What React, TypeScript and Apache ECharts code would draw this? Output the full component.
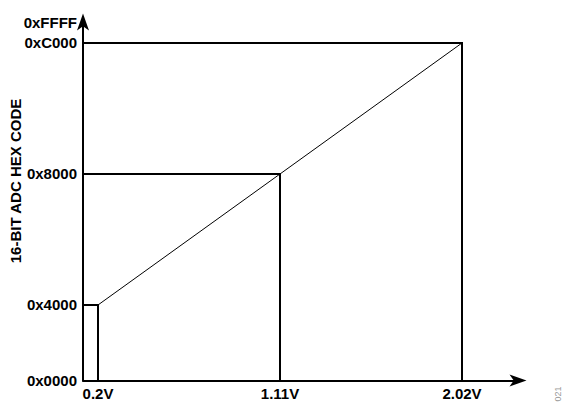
import React, { useEffect, useRef } from "react";
import * as echarts from "echarts";

// Data
const VOLTS = [0.2, 1.11, 2.02];
const X_LABELS = ["0.2V", "1.11V", "2.02V"];
const CODES = [0x4000, 0x8000, 0xc000];
const Y_TICK_LABELS = ["0x0000", "0x4000", "0x8000", "0xC000", "0xFFFF"];
const Y_NAME = "16-BIT ADC HEX CODE";
const FIG_ID = "021";

// Schematic axis ends (the figure labels the axis bottom 0x0000 and top 0xFFFF)
const X_MIN = 0.125;
const X_MAX = 2.3;
const Y_MIN = 6941;
const Y_MAX = 51778;

const Y_TICK_VALUES = [Y_MIN, ...CODES, Y_MAX];

const FONT = "'Liberation Sans', Arial, sans-serif";

export default function App() {
  const ref = useRef<HTMLDivElement>(null);
  useEffect(() => {
    if (!ref.current) return;
    const chart = echarts.init(ref.current, undefined, { renderer: "svg" });
    const nearest = (arr: number[], v: number) => {
      let best = 0;
      for (let i = 1; i < arr.length; i++) {
        if (Math.abs(arr[i] - v) < Math.abs(arr[best] - v)) best = i;
      }
      return best;
    };
    const axisLine = {
      show: true,
      onZero: false,
      symbol: ["none", "arrow"],
      symbolSize: [9, 17],
      symbolOffset: [0, 8.5],
      lineStyle: { color: "#000", width: 2 },
    };
    const dropSeries = CODES.map((c, i) => ({
      type: "line",
      data: [
        [X_MIN, c],
        [VOLTS[i], c],
        [VOLTS[i], Y_MIN],
      ],
      symbol: "none",
      clip: false,
      lineStyle: { color: "#000", width: 2, join: "miter", cap: "square" },
      z: 3,
    }));
    chart.setOption({
      animation: false,
      backgroundColor: "#fff",
      grid: {
        left: 83,
        right: 45,
        top: 22,
        bottom: 25.5,
        containLabel: false,
        outerBoundsMode: "none",
      },
      xAxis: {
        type: "value",
        min: X_MIN,
        max: X_MAX,
        axisLine,
        axisTick: { show: false },
        splitLine: { show: false },
        axisLabel: {
          customValues: VOLTS,
          formatter: (v: number) => X_LABELS[nearest(VOLTS, v)],
          color: "#000",
          fontFamily: FONT,
          fontWeight: "bold",
          fontSize: 15,
          margin: 5,
        },
      },
      yAxis: {
        type: "value",
        min: Y_MIN,
        max: Y_MAX,
        axisLine,
        axisTick: { show: false },
        splitLine: { show: false },
        axisLabel: {
          customValues: Y_TICK_VALUES,
          formatter: (v: number) => Y_TICK_LABELS[nearest(Y_TICK_VALUES, v)],
          color: "#000",
          fontFamily: FONT,
          fontWeight: "bold",
          fontSize: 15,
          margin: 6,
        },
      },
      graphic: [
        {
          type: "text",
          x: 15,
          y: 181,
          rotation: Math.PI / 2,
          style: {
            text: Y_NAME,
            fill: "#000",
            font: `bold 15px ${FONT}`,
            align: "center",
            verticalAlign: "middle",
          },
        },
        {
          type: "text",
          x: 558,
          y: 394,
          rotation: Math.PI / 2,
          style: {
            text: FIG_ID,
            fill: "#999",
            font: `9px ${FONT}`,
            align: "center",
            verticalAlign: "middle",
          },
        },
      ],
      series: [
        ...dropSeries,
        {
          type: "line",
          data: VOLTS.map((v, i) => [v, CODES[i]]),
          symbol: "none",
          clip: false,
          lineStyle: { color: "#000", width: 1 },
          z: 2,
        },
      ],
    });
    return () => chart.dispose();
  }, []);
  return (
    <div
      ref={ref}
      style={{ position: "fixed", left: 0, top: 0, width: 563, height: 406 }}
    />
  );
}
